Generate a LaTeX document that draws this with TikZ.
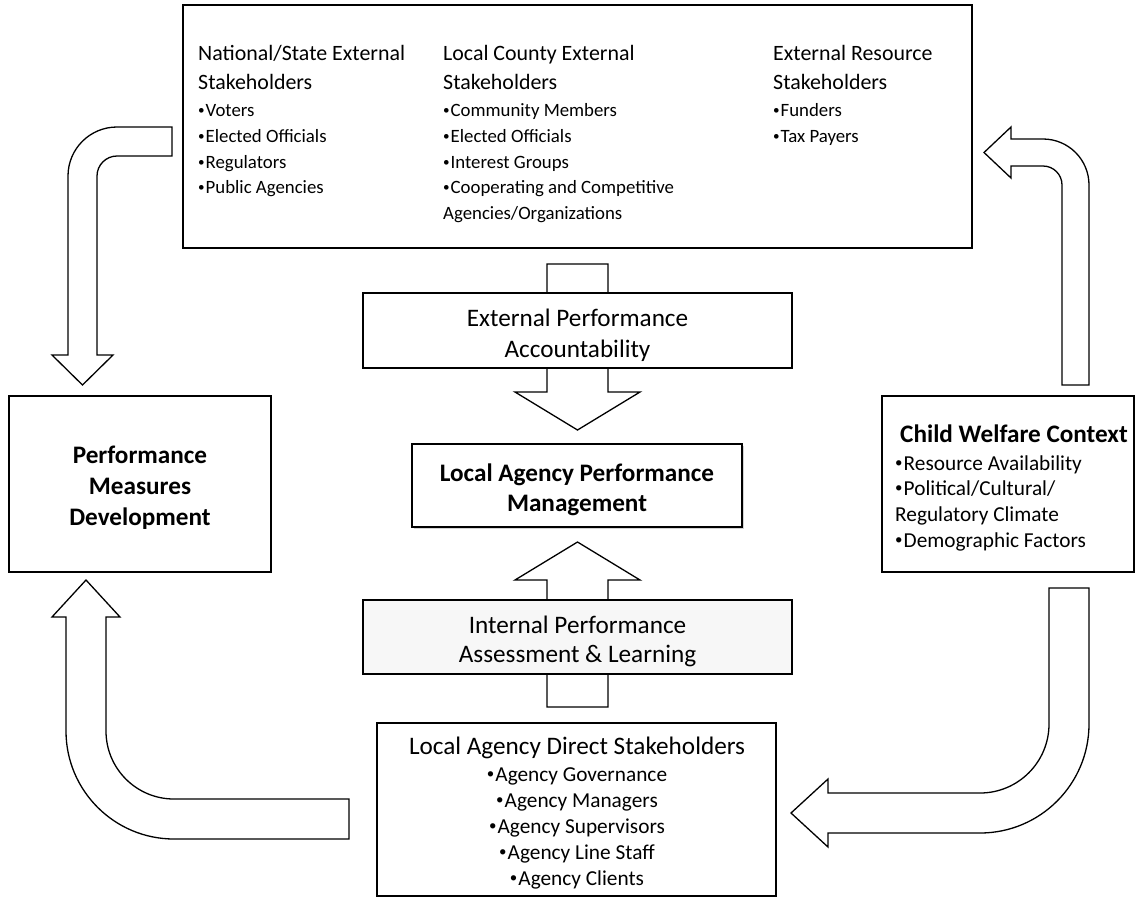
\documentclass[tikz,border=0pt]{standalone}
\usepackage{fontspec}
\setmainfont{Carlito}
\usetikzlibrary{shadows}
\newcommand\bu{\raisebox{0.1em}{\scalebox{0.7}{•}}\kern0.05em}
\begin{document}
\begin{tikzpicture}[x=1pt,y=-1pt,
  box/.style={draw=black, line width=1.3pt, fill=white, inner sep=0pt},
  barrow/.style={draw=black, fill=white, line width=1.3pt, line join=miter},
  hd/.style={font=\fontsize{21.9}{26}\selectfont, inner sep=0pt},
  bl/.style={font=\fontsize{18.8}{22}\selectfont, inner sep=0pt},
  md/.style={font=\fontsize{25.2}{30}\selectfont, inner sep=0pt},
  mdb/.style={font=\fontsize{25.2}{30}\selectfont\bfseries, inner sep=0pt},
  bb/.style={font=\fontsize{21.3}{25}\selectfont, inner sep=0pt},
  lw/.style={anchor=base west},
  lc/.style={anchor=base}
]
\useasboundingbox (0,0) rectangle (1140,898);

% central arrows (drawn first, boxes cover their shafts)
\draw[barrow] (547,264) -- (608,264) -- (608,392) -- (640,392) -- (577.5,430) -- (515,392) -- (547,392) -- cycle;
\draw[barrow] (547,707) -- (608,707) -- (608,580) -- (640,580) -- (577.5,542) -- (515,580) -- (547,580) -- cycle;

% boxes
\node[box, minimum width=789pt, minimum height=243pt] (topbox) at (577.5,126.5) {};
\node[box, minimum width=429pt, minimum height=75pt] (ext) at (577.5,330.5) {};
\node[box, minimum width=330pt, minimum height=83pt, drop shadow={shadow xshift=2pt, shadow yshift=-2pt, opacity=0.35}] (lapm) at (577,485.5) {};
\node[box, fill=black!3, minimum width=429pt, minimum height=74pt] (int) at (577.5,637) {};
\node[box, minimum width=399pt, minimum height=173pt] (direct) at (576.5,809.5) {};
\node[box, minimum width=262pt, minimum height=176pt] (pmd) at (140,484) {};
\node[box, minimum width=252pt, minimum height=176pt] (cwc) at (1008,484) {};

% curved block arrows
\draw[barrow] (172,127) -- (117,127) .. controls (89.9,127) and (68,148.9) .. (68,176) -- (68,355) -- (52,355) -- (82.5,385) -- (113,355) -- (97,355) -- (97,176) .. controls (97,165) and (106,156) .. (117,156) -- (172,156) -- cycle;
\draw[barrow] (1062,385) -- (1062,185) .. controls (1062,174.5) and (1053.5,166) .. (1043,166) -- (1011,166) -- (1011,178) -- (984,152.5) -- (1011,127) -- (1011,139) -- (1043,139) .. controls (1068.4,139) and (1089,159.6) .. (1089,185) -- (1089,385) -- cycle;
\draw[barrow] (349,799) -- (174,799) .. controls (136.4,799) and (106,768.6) .. (106,731) -- (106,617) -- (120,617) -- (86,580) -- (52,617) -- (66,617) -- (66,731) .. controls (66,790.6) and (114.4,839) .. (174,839) -- (349,839) -- cycle;
\draw[barrow] (1049,588) -- (1049,724) .. controls (1049,762.1) and (1018.1,793) .. (980,793) -- (828,793) -- (828,779) -- (791,813) -- (828,847) -- (828,833) -- (980,833) .. controls (1040.2,833) and (1089,784.2) .. (1089,724) -- (1089,588) -- cycle;

% top box texts
\node[hd,lw] (c1a) at (198,60) {National/State External};
\node[hd,lw] (c1b) at (198,89) {Stakeholders};
\node[bl,lw] (c1c) at (198,116) {\bu Voters};
\node[bl,lw] (c1d) at (198,142) {\bu Elected Officials};
\node[bl,lw] (c1e) at (198,168) {\bu Regulators};
\node[bl,lw] (c1f) at (198,193) {\bu Public Agencies};

\node[hd,lw] (c2a) at (443,60) {Local County External};
\node[hd,lw] (c2b) at (443,89) {Stakeholders};
\node[bl,lw] (c2c) at (443,116) {\bu Community Members};
\node[bl,lw] (c2d) at (443,142) {\bu Elected Officials};
\node[bl,lw] (c2e) at (443,168) {\bu Interest Groups};
\node[bl,lw] (c2f) at (443,193) {\bu Cooperating and Competitive};
\node[bl,lw] (c2g) at (443,219) {Agencies/Organizations};

\node[hd,lw] (c3a) at (773,60) {External Resource};
\node[hd,lw] (c3b) at (773,89) {Stakeholders};
\node[bl,lw] (c3c) at (773,116) {\bu Funders};
\node[bl,lw] (c3d) at (773,142) {\bu Tax Payers};

% middle texts
\node[md,lc] (exta) at (577.5,326) {External Performance};
\node[md,lc] (extb) at (577.5,357) {Accountability};
\node[mdb,lc] (lapma) at (577,481) {Local Agency Performance};
\node[mdb,lc] (lapmb) at (577,511) {Management};
\node[md,lc] (inta) at (577.5,633) {Internal Performance};
\node[md,lc] (intb) at (577.5,662) {Assessment \& Learning};

% bottom box
\node[md,lc] (da) at (577,754) {Local Agency Direct Stakeholders};
\node[bb,lc] (db) at (577,781) {\bu Agency Governance};
\node[bb,lc] (dc) at (577,807) {\bu Agency Managers};
\node[bb,lc] (dd) at (577,833) {\bu Agency Supervisors};
\node[bb,lc] (de) at (577,859) {\bu Agency Line Staff};
\node[bb,lc] (df) at (577,885) {\bu Agency Clients};

% left box
\node[mdb,lc] (pa) at (140,463) {Performance};
\node[mdb,lc] (pb) at (140,494) {Measures};
\node[mdb,lc] (pc) at (140,525) {Development};

% right box
\node[mdb,lw] (wa) at (900,442) {Child Welfare Context};
\node[bb,lw] (wb) at (895,470) {\bu Resource Availability};
\node[bb,lw] (wc) at (895,495) {\bu Political/Cultural/};
\node[bb,lw] (wd) at (895,521) {Regulatory Climate};
\node[bb,lw] (we) at (895,547) {\bu Demographic Factors};
\end{tikzpicture}
\end{document}
